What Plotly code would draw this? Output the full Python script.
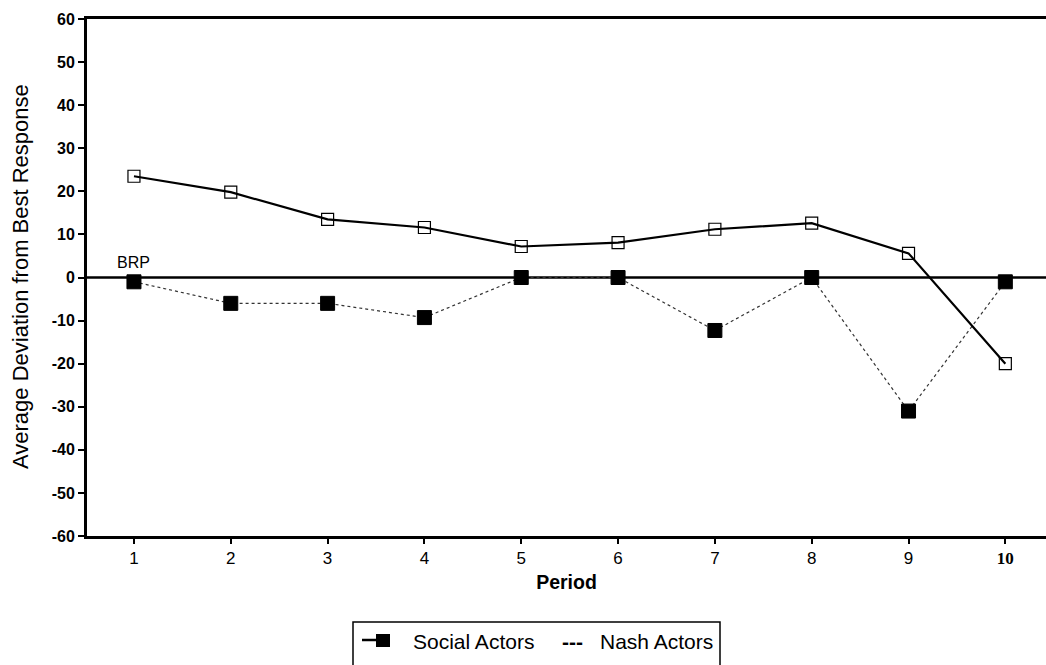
import plotly.graph_objects as go

periods = [1, 2, 3, 4, 5, 6, 7, 8, 9, 10]
period_labels = ["1", "2", "3", "4", "5", "6", "7", "8", "9",
                 "<span style='font-family:Liberation Serif'><b>10</b></span>"]
social_actors = [-1, -6, -6, -9.3, 0, 0, -12.3, 0, -31, -1]
nash_actors = [23.5, 19.8, 13.5, 11.6, 7.2, 8.1, 11.2, 12.6, 5.6, -20]
y_ticks = [-60, -50, -40, -30, -20, -10, 0, 10, 20, 30, 40, 50, 60]
y_labels = [f"<b>{v}</b>" for v in y_ticks]

SANS = "Liberation Sans, Arial, sans-serif"
W, H = 1046, 665
ML, MR, MT, MB = 87, 0, 19, 129


def px_x(p):
    return (p - ML) / (W - ML - MR)


def px_y(p):
    return (H - MB - p) / (H - MT - MB)


fig = go.Figure()

fig.add_trace(go.Scatter(
    x=periods, y=social_actors, name="Social Actors",
    mode="lines+markers",
    line=dict(color="#333333", width=1.2, dash="dot"),
    marker=dict(symbol="square", size=14, color="black",
                line=dict(color="black", width=1)),
))

fig.add_trace(go.Scatter(
    x=periods, y=nash_actors, name="Nash Actors",
    mode="lines+markers",
    line=dict(color="black", width=2.2),
    marker=dict(symbol="square-open", size=12, color="black",
                line=dict(color="black", width=1.2)),
))

# Best-response reference line
fig.add_shape(type="line", xref="paper", x0=0, x1=1, yref="y", y0=0, y1=0,
              line=dict(color="black", width=2.5), layer="below")

fig.add_annotation(x=1, y=0, text="BRP", showarrow=False, yanchor="bottom",
                   yshift=5, font=dict(family=SANS, size=16, color="black"))

# Vertical axis title
fig.add_annotation(xref="paper", yref="paper", x=px_x(20), y=px_y(277),
                   text="Average Deviation from Best Response", textangle=-90,
                   showarrow=False, xanchor="center", yanchor="middle",
                   font=dict(family=SANS, size=22, color="black"))

# Legend box drawn below the axis
fig.add_shape(type="rect", xref="paper", yref="paper",
              x0=px_x(353), x1=px_x(720), y0=px_y(622), y1=px_y(700),
              line=dict(color="black", width=1.5), fillcolor="white")
# key for the social series: a short dash followed by a filled block
fig.add_shape(type="line", xref="paper", yref="paper",
              x0=px_x(362), x1=px_x(376), y0=px_y(640), y1=px_y(640),
              line=dict(color="black", width=2.5))
fig.add_shape(type="rect", xref="paper", yref="paper",
              x0=px_x(376), x1=px_x(390), y0=px_y(634), y1=px_y(647),
              line=dict(color="black", width=0), fillcolor="black")

legend_items = [
    (412, "Social Actors"),
    (561, "<b>---</b>"),
    (599, "Nash Actors"),
]
for xp, txt in legend_items:
    fig.add_annotation(xref="paper", yref="paper", x=px_x(xp), y=px_y(641),
                       text=txt, showarrow=False, xanchor="left", yanchor="middle",
                       xshift=-1, font=dict(family=SANS, size=21, color="black"))

fig.update_layout(
    width=W, height=H,
    margin=dict(l=ML, r=MR, t=MT, b=MB),
    paper_bgcolor="white", plot_bgcolor="white",
    font=dict(family=SANS, color="black"),
    showlegend=False,
)

fig.update_xaxes(
    range=[0.515, 10.42], tickvals=periods, ticktext=period_labels,
    showgrid=False, zeroline=False,
    showline=True, linecolor="black", linewidth=3, mirror=True,
    ticks="outside", ticklen=5, tickwidth=1.5, tickcolor="black",
    tickfont=dict(family=SANS, size=17, color="black"),
    title=dict(text="<b>Period</b>", font=dict(family=SANS, size=19.5, color="black"),
               standoff=8),
)

fig.update_yaxes(
    range=[-60, 60], tickvals=y_ticks, ticktext=y_labels,
    showgrid=False, zeroline=False,
    showline=True, linecolor="black", linewidth=3,
    ticks="outside", ticklen=6, tickwidth=2, tickcolor="black",
    tickfont=dict(family=SANS, size=16, color="black"),
)

fig.write_html("out.html")
